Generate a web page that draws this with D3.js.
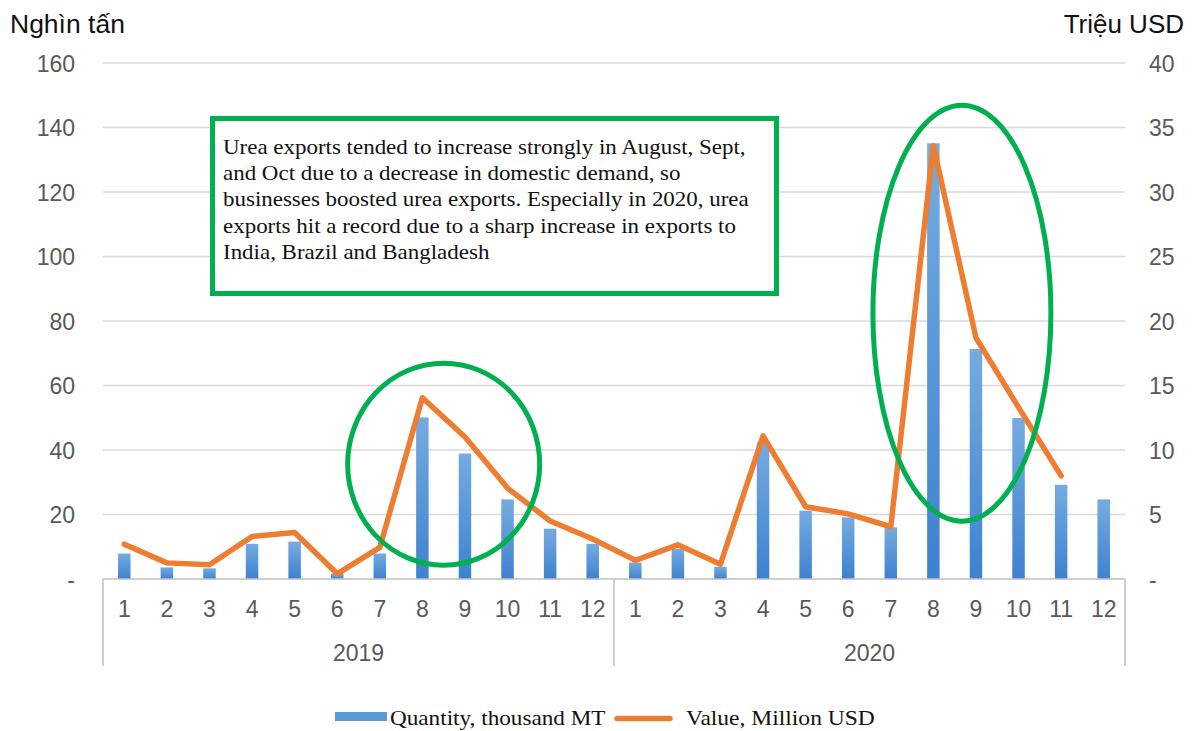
<!DOCTYPE html>
<html>
<head>
<meta charset="utf-8">
<script src="https://cdn.jsdelivr.net/npm/d3@7"></script>
<style>
  html, body { margin: 0; padding: 0; background: #fff; }
  svg { display: block; }
</style>
</head>
<body>
<svg id="chart" width="1192" height="731"></svg>
<script>
// ---- data ----
const years = ["2019", "2020"];
const months = ["1","2","3","4","5","6","7","8","9","10","11","12"];
const quantity2019 = [7.9, 3.6, 3.3, 10.9, 11.6, 1.7, 7.9, 50.1, 38.9, 24.7, 15.6, 10.9];
const quantity2020 = [5.1, 9.3, 3.8, 42.4, 21.2, 19.1, 16.0, 135.1, 71.3, 49.9, 29.2, 24.7];
const value2019 = [2.7, 1.25, 1.1, 3.3, 3.6, 0.4, 2.45, 14.05, 11.0, 7.05, 4.5, 3.1];
const value2020 = [1.45, 2.65, 1.15, 11.1, 5.6, 5.05, 4.05, 33.6, 18.7, 13.3, 8.0, null];
const leftTicks = [0, 20, 40, 60, 80, 100, 120, 140, 160];
const rightTicks = [0, 5, 10, 15, 20, 25, 30, 35, 40];
const leftTitle = "Nghìn tấn";
const rightTitle = "Triệu USD";
const legendLabels = ["Quantity, thousand MT", "Value, Million USD"];
const noteLines = [
  "Urea exports tended to increase strongly in August, Sept,",
  "and Oct due to a decrease in domestic demand, so",
  "businesses boosted urea exports. Especially in 2020, urea",
  "exports hit a record due to a sharp increase in exports to",
  "India, Brazil and Bangladesh"
];

// build table
const rows = [];
years.forEach((yr, yi) => {
  const q = yi === 0 ? quantity2019 : quantity2020;
  const v = yi === 0 ? value2019 : value2020;
  months.forEach((m, mi) => rows.push({ key: yr + "-" + m, year: yr, month: m, q: q[mi], v: v[mi] }));
});

// ---- layout ----
const svg = d3.select("#chart");
const plotL = 103, plotR = 1125, plotT = 63, plotB = 579;
const x = d3.scaleBand().domain(rows.map(d => d.key)).range([plotL, plotR]).padding(0);
const yL = d3.scaleLinear().domain([0, 160]).range([plotB, plotT]);
const yR = d3.scaleLinear().domain([0, 40]).range([plotB, plotT]);
const tickColor = "#595959";
const green = "#00b04f";
const sans = "Liberation Sans, Arial, sans-serif";
const serif = "Liberation Serif, Times New Roman, serif";

// helper: text stretched horizontally (the source image is slightly wide)
function wideText(parent, tx, ty, str, font, size, sx, anchor) {
  return parent.append("text")
    .attr("transform", `translate(${tx},${ty}) scale(${sx},1)`)
    .attr("text-anchor", anchor || "start")
    .attr("font-family", font).attr("font-size", size).attr("fill", "#111")
    .text(str);
}

// gradient for bars
const defs = svg.append("defs");
const grad = defs.append("linearGradient").attr("id", "barGrad").attr("x1", 0).attr("y1", 0).attr("x2", 0).attr("y2", 1);
grad.append("stop").attr("offset", "0%").attr("stop-color", "#76abe0");
grad.append("stop").attr("offset", "100%").attr("stop-color", "#3d82cf");

// gridlines
svg.append("g").selectAll("line").data(leftTicks.filter(t => t > 0)).join("line")
  .attr("x1", plotL).attr("x2", plotR)
  .attr("y1", d => yL(d)).attr("y2", d => yL(d))
  .attr("stroke", "#d9d9d9").attr("stroke-width", 1.3);

// left axis labels
const leftAxis = d3.axisLeft(yL).tickValues(leftTicks).tickSize(0).tickPadding(0)
  .tickFormat(d => d === 0 ? "-" : d);
svg.append("g").attr("transform", "translate(75,0)").call(leftAxis)
  .call(g => g.select(".domain").remove())
  .selectAll("text").attr("font-family", sans)
  .attr("font-size", 23).attr("fill", tickColor).attr("dy", "0.36em");

// right axis labels
const rightAxis = d3.axisRight(yR).tickValues(rightTicks).tickSize(0).tickPadding(0)
  .tickFormat(d => d === 0 ? "-" : d);
svg.append("g").attr("transform", "translate(1149,0)").call(rightAxis)
  .call(g => g.select(".domain").remove())
  .selectAll("text").attr("font-family", sans)
  .attr("font-size", 23).attr("fill", tickColor).attr("dy", "0.36em");

// axis titles
wideText(svg, 10, 33, leftTitle, sans, 25, 1.06);
wideText(svg, 1184, 33, rightTitle, sans, 25, 1.04, "end");

// annotation box (white fill hides gridlines)
const box = svg.append("g");
box.append("rect").attr("x", 212.5).attr("y", 118.5).attr("width", 564).attr("height", 175)
  .attr("fill", "#fff").attr("stroke", green).attr("stroke-width", 5);
noteLines.forEach((t, i) => wideText(box, 223, 154 + i * 26.2, t, serif, 22, 1.044));

// bars
const barW = 12.5;
svg.append("g").selectAll("rect").data(rows).join("rect")
  .attr("x", d => x(d.key) + x.bandwidth() / 2 - barW / 2)
  .attr("width", barW)
  .attr("y", d => yL(d.q))
  .attr("height", d => yL(0) - yL(d.q))
  .attr("fill", "url(#barGrad)");

// x axis baseline and separators
svg.append("line").attr("x1", plotL).attr("x2", plotR).attr("y1", plotB).attr("y2", plotB)
  .attr("stroke", "#bfbfbf").attr("stroke-width", 1.5);
const seps = [plotL, x(rows[12].key), plotR];
svg.append("g").selectAll("line").data(seps).join("line")
  .attr("x1", d => d).attr("x2", d => d).attr("y1", plotB).attr("y2", 666)
  .attr("stroke", "#bfbfbf").attr("stroke-width", 1.5);

// month labels
const xAxis = d3.axisBottom(x).tickSize(0).tickPadding(0).tickFormat(k => k.split("-")[1]);
svg.append("g").attr("transform", "translate(0,617)").call(xAxis)
  .call(g => g.select(".domain").remove())
  .selectAll("text").attr("dy", 0).attr("font-family", sans)
  .attr("font-size", 23).attr("fill", tickColor);

// year labels
svg.append("g").selectAll("text").data(years).join("text")
  .attr("x", (d, i) => (x(rows[i * 12].key) + x(rows[i * 12 + 11].key) + x.bandwidth()) / 2)
  .attr("y", 661).attr("text-anchor", "middle").text(d => d)
  .attr("font-family", sans).attr("font-size", 23).attr("fill", tickColor);

// value line
const line = d3.line().defined(d => d.v != null)
  .x(d => x(d.key) + x.bandwidth() / 2).y(d => yR(d.v));
svg.append("path").datum(rows).attr("d", line)
  .attr("fill", "none").attr("stroke", "#ed7d31").attr("stroke-width", 5.5)
  .attr("stroke-linejoin", "round").attr("stroke-linecap", "round");

// highlight ellipses (anchored to categories / right-axis values)
const ellipses = [
  { key: "2019-8", offset: 1.0, cy: 8.9, rx: 96, ry: 101 },
  { key: "2020-8", offset: 1.17, cy: 20.6, rx: 89, ry: 208 }
];
svg.append("g").selectAll("ellipse").data(ellipses).join("ellipse")
  .attr("cx", d => x(d.key) + x.bandwidth() * d.offset)
  .attr("cy", d => yR(d.cy))
  .attr("rx", d => d.rx).attr("ry", d => d.ry)
  .attr("fill", "none").attr("stroke", green).attr("stroke-width", 5);

// legend
const lg = svg.append("g");
lg.append("rect").attr("x", 335).attr("y", 712).attr("width", 52).attr("height", 9).attr("fill", "#5b9bd5");
wideText(lg, 390, 725, legendLabels[0], serif, 22, 1.054);
lg.append("line").attr("x1", 617).attr("x2", 670).attr("y1", 718.5).attr("y2", 718.5)
  .attr("stroke", "#ed7d31").attr("stroke-width", 5.5).attr("stroke-linecap", "round");
wideText(lg, 686, 725, legendLabels[1], serif, 22, 1.07);
</script>
</body>
</html>
